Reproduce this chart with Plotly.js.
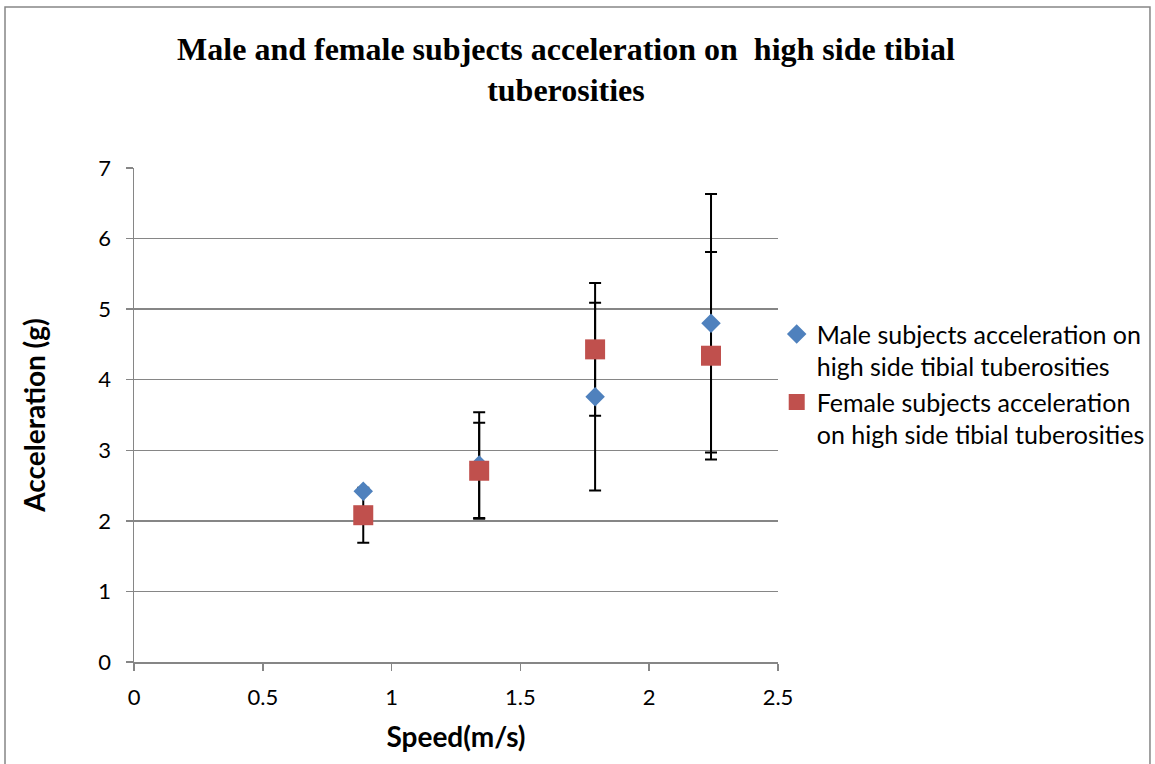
<!DOCTYPE html>
<html>
<head>
<meta charset="utf-8">
<script src="https://cdn.plot.ly/plotly-3.0.1.min.js"></script>
<style>
  html, body { margin: 0; padding: 0; background: #ffffff; }
  #chart { width: 1155px; height: 764px; }
</style>
</head>
<body>
<div id="chart"></div>
<script>
// Walking speeds (m/s)
const speed = [0.89, 1.34, 1.79, 2.24];

// Mean peak acceleration (g) and standard deviation
const maleAccel = [2.42, 2.79, 3.76, 4.80];
const maleSD = [0.03, 0.75, 1.33, 1.83];
const femaleAccel = [2.08, 2.71, 4.43, 4.34];
const femaleSD = [0.39, 0.68, 0.94, 1.47];

const maleName = 'Male subjects acceleration on<br>high side tibial tuberosities';
const femaleName = 'Female subjects acceleration<br>on high side tibial tuberosities';

const bodyFont = 'Lato, "Open Sans", "Liberation Sans", sans-serif';

function errBar(sd) {
  return { type: 'data', array: sd, visible: true, color: '#000000', thickness: 2, width: 6 };
}

// Error bars go in their own traces first so every marker sits above them
const traces = [
  {
    x: speed, y: maleAccel, type: 'scatter', mode: 'markers',
    marker: { size: 1, opacity: 0 }, error_y: errBar(maleSD),
    showlegend: false, hoverinfo: 'skip'
  },
  {
    x: speed, y: femaleAccel, type: 'scatter', mode: 'markers',
    marker: { size: 1, opacity: 0 }, error_y: errBar(femaleSD),
    showlegend: false, hoverinfo: 'skip'
  },
  {
    x: speed, y: maleAccel, type: 'scatter', mode: 'markers', name: maleName,
    marker: { symbol: 'diamond', size: 15, color: '#4F81BD', line: { width: 0 } }
  },
  {
    x: speed, y: femaleAccel, type: 'scatter', mode: 'markers', name: femaleName,
    marker: { symbol: 'square', size: 20, color: '#C0504D', line: { width: 0 } }
  }
];

const axisBase = {
  showline: true, linecolor: '#868686', linewidth: 1.5,
  ticks: 'outside', ticklen: 7, tickcolor: '#868686', tickwidth: 1.5,
  tickfont: { family: bodyFont, size: 22, color: '#000000' },
  zeroline: false
};

const layout = {
  width: 1155, height: 764,
  paper_bgcolor: '#ffffff', plot_bgcolor: '#ffffff',
  margin: { l: 134, r: 377, t: 168, b: 102, autoexpand: false },
  title: {
    text: 'Male and female subjects acceleration on  high side tibial<br>tuberosities',
    font: { family: '"Liberation Serif", "Times New Roman", serif', size: 32, color: '#000000', weight: 'bold' },
    x: 0.49, xref: 'container', xanchor: 'center', y: 0.922, yref: 'container', yanchor: 'middle'
  },
  xaxis: Object.assign({}, axisBase, {
    range: [0, 2.5], dtick: 0.5, tick0: 0, showgrid: false, ticklabelstandoff: 8,
    title: { text: '<b>Speed(m/s)</b>', font: { family: bodyFont, size: 28, color: '#000000' }, standoff: 18 }
  }),
  yaxis: Object.assign({}, axisBase, {
    range: [0, 7], dtick: 1, tick0: 0, ticklabelstandoff: 10,
    showgrid: true, gridcolor: '#868686', gridwidth: 1.5,
    title: { text: '<b>Acceleration (g)</b>', font: { family: bodyFont, size: 28, color: '#000000' }, standoff: 44 }
  }),
  legend: {
    x: 0.998, xanchor: 'left', y: 0.71, yanchor: 'top', valign: 'top',
    font: { family: bodyFont, size: 25, color: '#000000' },
    bgcolor: 'rgba(0,0,0,0)', itemsizing: 'trace', tracegroupgap: 0
  },
  shapes: [{
    type: 'rect', xref: 'paper', yref: 'paper',
    x0: -0.2003, x1: 1.5776, y0: -0.23, y1: 1.3259,
    line: { color: '#868686', width: 1.5 }, fillcolor: 'rgba(0,0,0,0)', layer: 'below'
  }],
  showlegend: true
};

Plotly.newPlot('chart', traces, layout, { displayModeBar: false, staticPlot: true });
</script>
</body>
</html>
